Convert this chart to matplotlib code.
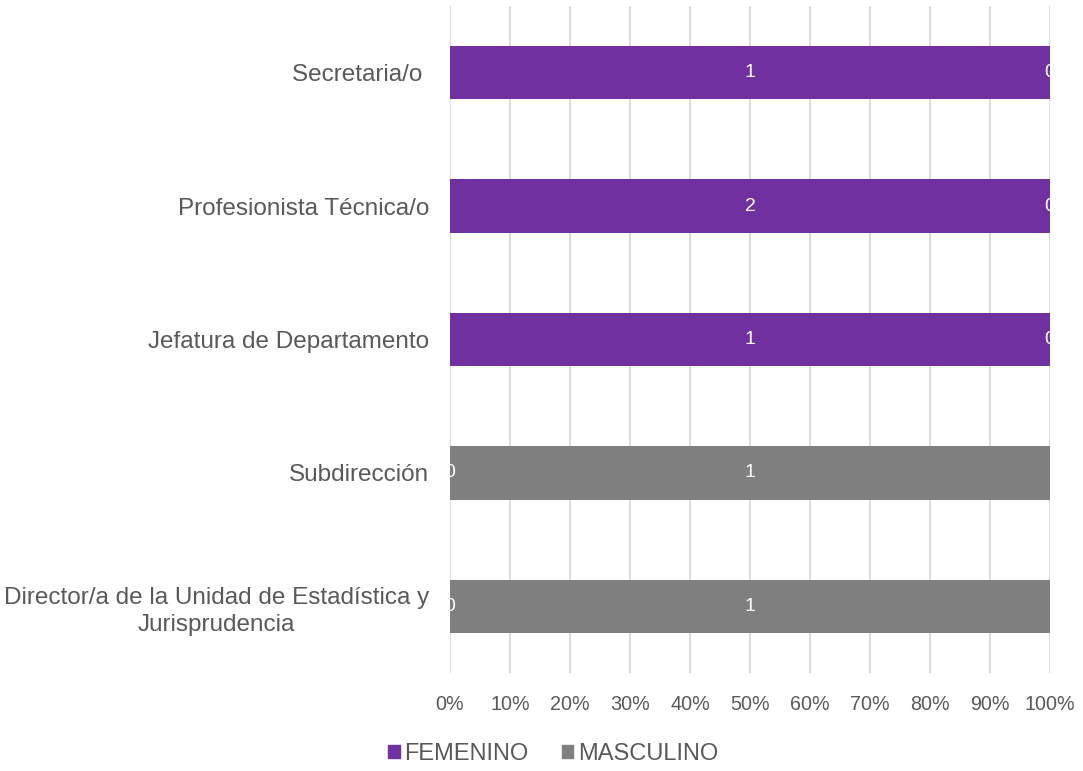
import matplotlib.pyplot as plt
from matplotlib.patches import Patch

plt.rcParams['font.family'] = ['Liberation Sans', 'DejaVu Sans']

categories = ["Director/a de la Unidad de Estadística y\nJurisprudencia",
              "Subdirección",
              "Jefatura de Departamento",
              "Profesionista Técnica/o",
              "Secretaria/o "]
femenino = [0, 0, 1, 2, 1]
masculino = [1, 1, 0, 0, 0]

purple = '#7030A0'
grey = '#7F7F7F'
text_col = '#595959'

fig = plt.figure(figsize=(10.83, 7.71), dpi=100)
ax = fig.add_axes([450 / 1083, 98 / 771, 600 / 1083, 667 / 771])

ypos = list(range(len(categories)))
totals = [f + m for f, m in zip(femenino, masculino)]
fem_pct = [f / t * 100 for f, t in zip(femenino, totals)]
mas_pct = [m / t * 100 for m, t in zip(masculino, totals)]

bars_f = ax.barh(ypos, fem_pct, height=0.4, color=purple, zorder=2)
bars_m = ax.barh(ypos, mas_pct, left=fem_pct, height=0.4, color=grey, zorder=2)

# etiquetas de valor centradas en cada segmento
for bars, vals in ((bars_f, femenino), (bars_m, masculino)):
    for b, v in zip(bars, vals):
        cx = b.get_x() + b.get_width() / 2
        cy = b.get_y() + b.get_height() / 2
        ax.text(cx, cy, str(v), ha='center', va='center', color='white',
                fontsize=14, zorder=3)

ax.set_xlim(0, 100)
ax.set_ylim(-0.5, len(categories) - 0.5)
ax.set_xticks(range(0, 101, 10))
ax.set_xticklabels([f"{p}%" for p in range(0, 101, 10)])
ax.set_yticks(ypos)
ax.set_yticklabels(categories, ha='right', multialignment='center', linespacing=1.3)
ax.tick_params(axis='y', length=0, pad=15, labelsize=17.5, labelcolor=text_col)
ax.tick_params(axis='x', length=0, pad=16, labelsize=14.2, labelcolor=text_col)

ax.grid(axis='x', color='#D9D9D9', linewidth=1.3, zorder=0)
for s in ax.spines.values():
    s.set_visible(False)

handles = [Patch(color=purple, label='FEMENINO'), Patch(color=grey, label='MASCULINO')]
fig.legend(handles=handles, loc='center', bbox_to_anchor=(553 / 1083, 1 - 754 / 771),
           ncol=2, frameon=False, fontsize=17, handlelength=0.5, handleheight=0.5,
           handletextpad=0.2, columnspacing=1.4, labelcolor=text_col)

fig.savefig('out.png', dpi=100)
